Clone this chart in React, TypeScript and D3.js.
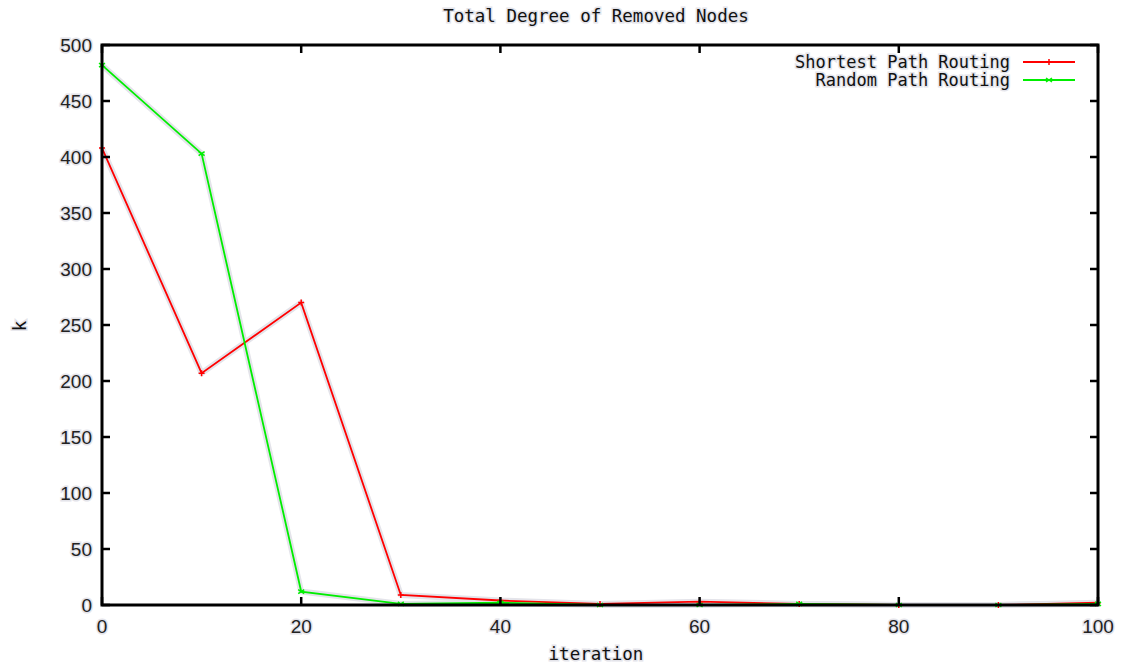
import React, { useEffect, useRef } from 'react';
import * as d3 from 'd3';

const iterations = [0, 10, 20, 30, 40, 50, 60, 70, 80, 90, 100];
const shortestPath = [408, 207, 270, 9, 4, 1, 3, 1, 0, 0, 2];
const randomPath = [482, 403, 12, 1, 2, 0, 0, 1, 0, 0, 1];
const xTicks = [0, 20, 40, 60, 80, 100];
const yTicks = [0, 50, 100, 150, 200, 250, 300, 350, 400, 450, 500];

const seriesNames = ['Shortest Path Routing', 'Random Path Routing'];
const seriesColors = ['#ff0000', '#00ee00'];

export default function App() {
    const ref = useRef<SVGSVGElement>(null);

    useEffect(() => {
        const svg = d3.select(ref.current);
        svg.selectAll('*').remove();

        // SETTINGS
        const margin = { top: 45, right: 30, bottom: 63, left: 102 };
        const width = 1128 - margin.left - margin.right;
        const height = 668 - margin.top - margin.bottom;
        const halo = '#e4e4ea';
        const mono = '"DejaVu Sans Mono", monospace';
        const sans = '"Liberation Sans", Arial, sans-serif';
        const monoSize = 17.5;

        const x = d3.scaleLinear().domain([0, 100]).range([0, width]);
        const y = d3.scaleLinear().domain([0, 500]).range([height, 0]);

        const g = svg.append('g')
            .attr('transform', `translate(${margin.left}, ${margin.top})`);

        // title
        svg.append('text')
            .attr('x', 596)
            .attr('y', 22)
            .attr('text-anchor', 'middle')
            .attr('font-family', mono)
            .attr('font-size', monoSize)
            .attr('fill', '#111')
            .attr('stroke', halo).attr('stroke-width', 3).attr('paint-order', 'stroke')
            .text('Total Degree of Removed Nodes');

        // lines
        const series = [shortestPath, randomPath];
        const line = d3.line<number>()
            .x((d, i) => x(iterations[i]))
            .y(d => y(d));

        series.forEach(vals => {
            g.append('path')
                .attr('d', line(vals))
                .attr('fill', 'none')
                .attr('stroke', halo)
                .attr('stroke-width', 6)
                .attr('stroke-linejoin', 'round');
        });
        series.forEach((vals, si) => {
            g.append('path')
                .attr('d', line(vals))
                .attr('fill', 'none')
                .attr('stroke', seriesColors[si])
                .attr('stroke-width', 1.8);
            // point markers
            g.selectAll(null)
                .data(vals)
                .enter()
                .append('path')
                .attr('transform', (d, i) => `translate(${x(iterations[i])}, ${y(d)})`)
                .attr('d', si === 0 ? 'M-3,0H3M0,-3V3' : 'M-3,-2L3,2M-3,2L3,-2')
                .attr('stroke', seriesColors[si])
                .attr('stroke-width', 1.5);
        });

        // border
        g.append('rect')
            .attr('width', width).attr('height', height)
            .attr('fill', 'none')
            .attr('stroke', '#000')
            .attr('stroke-width', 3);

        // ticks (inward, mirrored)
        const tickLen = 8;
        yTicks.forEach(t => {
            g.append('line').attr('x1', 0).attr('x2', tickLen).attr('y1', y(t)).attr('y2', y(t))
                .attr('stroke', '#000').attr('stroke-width', 2.5);
            g.append('line').attr('x1', width).attr('x2', width - tickLen).attr('y1', y(t)).attr('y2', y(t))
                .attr('stroke', '#000').attr('stroke-width', 2.5);
            g.append('text')
                .attr('x', -10).attr('y', y(t)).attr('dy', '0.35em')
                .attr('text-anchor', 'end')
                .attr('font-family', sans).attr('font-size', 19).attr('fill', '#222')
                .attr('stroke', halo).attr('stroke-width', 3).attr('paint-order', 'stroke')
                .text(t);
        });
        xTicks.forEach(t => {
            g.append('line').attr('x1', x(t)).attr('x2', x(t)).attr('y1', height).attr('y2', height - tickLen)
                .attr('stroke', '#000').attr('stroke-width', 2.5);
            g.append('line').attr('x1', x(t)).attr('x2', x(t)).attr('y1', 0).attr('y2', tickLen)
                .attr('stroke', '#000').attr('stroke-width', 2.5);
            g.append('text')
                .attr('x', x(t)).attr('y', height + 28)
                .attr('text-anchor', 'middle')
                .attr('font-family', sans).attr('font-size', 19).attr('fill', '#222')
                .attr('stroke', halo).attr('stroke-width', 3).attr('paint-order', 'stroke')
                .text(t);
        });

        // axis labels
        svg.append('text')
            .attr('x', 596)
            .attr('y', 660)
            .attr('text-anchor', 'middle')
            .attr('font-family', mono).attr('font-size', monoSize).attr('fill', '#111')
            .attr('stroke', halo).attr('stroke-width', 3).attr('paint-order', 'stroke')
            .text('iteration');
        svg.append('text')
            .attr('transform', `translate(26, 326) rotate(-90)`)
            .attr('text-anchor', 'middle')
            .attr('font-family', mono).attr('font-size', monoSize).attr('fill', '#111')
            .attr('stroke', halo).attr('stroke-width', 3).attr('paint-order', 'stroke')
            .text('k');

        // legend
        seriesNames.forEach((name, i) => {
            const ly = 17 + i * 18;
            g.append('text')
                .attr('x', 908).attr('y', ly).attr('dy', '0.35em')
                .attr('text-anchor', 'end')
                .attr('font-family', mono).attr('font-size', 17).attr('fill', '#111')
                .attr('stroke', halo).attr('stroke-width', 3).attr('paint-order', 'stroke')
                .text(name);
            g.append('line')
                .attr('x1', 921).attr('x2', 973).attr('y1', ly).attr('y2', ly)
                .attr('stroke', seriesColors[i]).attr('stroke-width', 1.8);
            g.append('path')
                .attr('transform', `translate(947, ${ly})`)
                .attr('d', i === 0 ? 'M-3,0H3M0,-3V3' : 'M-3,-2L3,2M-3,2L3,-2')
                .attr('stroke', seriesColors[i]).attr('stroke-width', 1.5);
        });
    }, []);

    return (
        <svg ref={ref} width={1128} height={668}
            style={{ position: 'absolute', left: 0, top: 0, background: '#fff' }} />
    );
}
